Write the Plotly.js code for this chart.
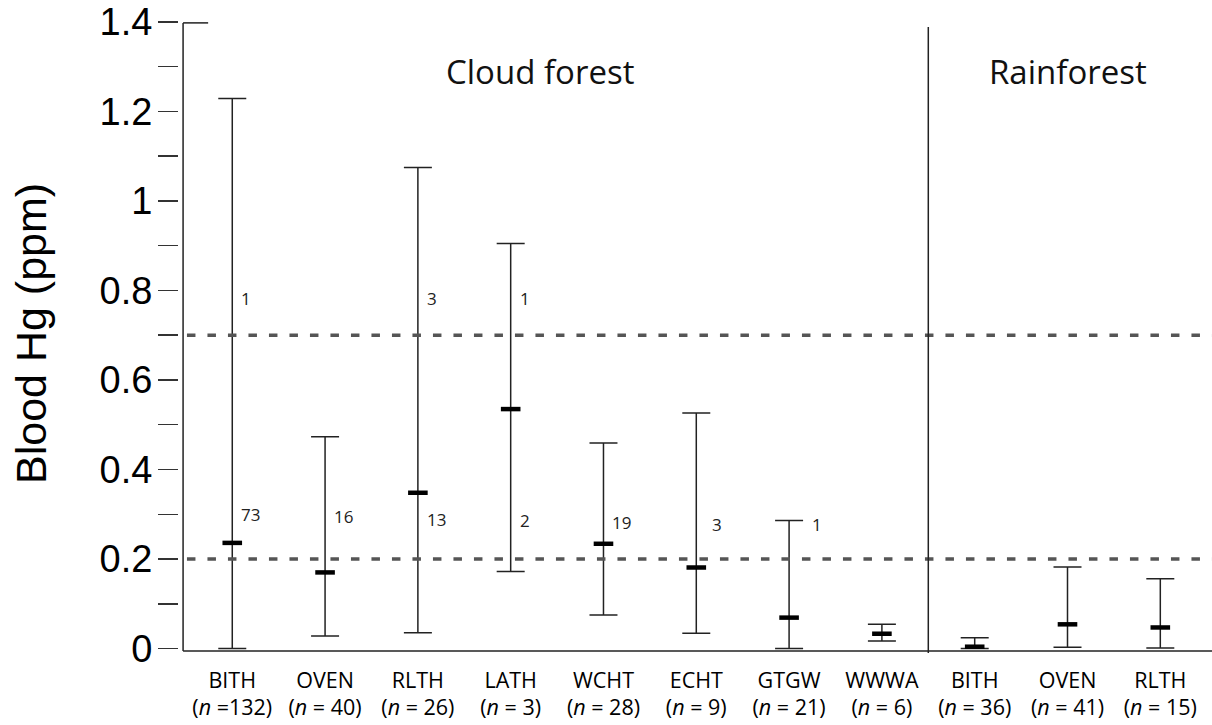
<!DOCTYPE html>
<html>
<head>
<meta charset="utf-8">
<script src="https://cdn.plot.ly/plotly-3.0.1.min.js"></script>
<style>
  html, body { margin: 0; padding: 0; background: #fff; }
  #chart { width: 1212px; height: 725px; }
</style>
</head>
<body>
<div id="chart"></div>
<script>
// ---- data ----
const species  = ["BITH", "OVEN", "RLTH", "LATH", "WCHT", "ECHT", "GTGW", "WWWA", "BITH", "OVEN", "RLTH"];
const sampleN  = ["=132", "= 40", "= 26", "= 3", "= 28", "= 9", "= 21", "= 6", "= 36", "= 41", "= 15"];
const meanHg   = [0.236, 0.170, 0.348, 0.535, 0.234, 0.181, 0.069, 0.033, 0.004, 0.054, 0.047];
const lowHg    = [0.000, 0.028, 0.035, 0.172, 0.075, 0.034, 0.000, 0.017, 0.000, 0.003, 0.001];
const highHg   = [1.229, 0.473, 1.075, 0.905, 0.459, 0.526, 0.286, 0.054, 0.024, 0.182, 0.156];
const thresholds = [0.2, 0.7];
const yTickVals  = [0, 0.1, 0.2, 0.3, 0.4, 0.5, 0.6, 0.7, 0.8, 0.9, 1.0, 1.1, 1.2, 1.3, 1.4];
const yTickText  = ["0", "", "0.2", "", "0.4", "", "0.6", "", "0.8", "", "1", "", "1.2", "", "1.4"];
const habitatNames = ["Cloud forest", "Rainforest"];
const habitatX     = [3.32, 9.0];
const habitatSplit = 7.5;
// counts above / below threshold annotated beside the bars
const countCat  = [0, 0, 1, 2, 2, 3, 3, 4, 5, 6];
const countText = ["1", "73", "16", "3", "13", "1", "2", "19", "3", "1"];
const countY    = [0.781, 0.299, 0.294, 0.781, 0.289, 0.783, 0.287, 0.282, 0.277, 0.277];

// ---- build traces ----
const xIdx = species.map((_, i) => i);
const tickText = species.map((s, i) => s + "<br>(<i>n</i> " + sampleN[i] + ")");

const trace = {
  type: "scatter",
  mode: "markers",
  x: xIdx,
  y: meanHg,
  marker: { symbol: "line-ew", size: 14, color: "#000", line: { color: "#000", width: 4.5 } },
  error_y: {
    type: "data",
    symmetric: false,
    array: highHg.map((h, i) => h - meanHg[i]),
    arrayminus: lowHg.map((l, i) => meanHg[i] - l),
    color: "#222",
    thickness: 1.5,
    width: 14
  },
  hoverinfo: "skip",
  showlegend: false
};

const shapes = [];
thresholds.forEach(t => shapes.push({
  type: "line", xref: "paper", yref: "y", x0: 0.0077, x1: 1, y0: t, y1: t,
  line: { color: "#555", width: 3.5, dash: "8.5px,12px" }
}));
// divider between habitats
shapes.push({ type: "line", xref: "x", yref: "paper", x0: habitatSplit, x1: habitatSplit, y0: -0.0032, y1: 0.9905,
  line: { color: "#222", width: 1.5 } });
// axis lines
shapes.push({ type: "line", xref: "x", yref: "paper", x0: -0.53, x1: -0.53, y0: 0, y1: 0.997,
  line: { color: "#222", width: 1.5 } });
shapes.push({ type: "line", xref: "x", yref: "paper", x0: -0.53, x1: -0.53 + 0.27, y0: 0.997, y1: 0.997,
  line: { color: "#222", width: 1.5 } });
shapes.push({ type: "line", xref: "x", yref: "paper", x0: -0.53, x1: 10.56, y0: 0, y1: 0,
  line: { color: "#222", width: 1.5 } });

const annotations = [];
habitatNames.forEach((h, i) => annotations.push({
  text: h, x: habitatX[i], y: 1.29, xref: "x", yref: "y", showarrow: false,
  font: { family: "Open Sans, sans-serif", size: 33, color: "#111" }
}));
countText.forEach((t, i) => {
  const c = countCat[i];
  const shift = c === 5 ? 15 : (c === 6 ? 22 : 8);
  annotations.push({
    text: t, x: c, y: countY[i], xref: "x", yref: "y", showarrow: false,
    xanchor: "left", xshift: shift - 1,
    font: { family: "Open Sans, sans-serif", size: 17, color: "#222" }
  });
});
// y-axis title
annotations.push({
  text: "Blood Hg (ppm)", xref: "paper", yref: "paper", x: (31 - 179) / 1033, y: (651 - 334) / 630,
  xanchor: "center", yanchor: "middle", textangle: -90, showarrow: false,
  font: { family: "Liberation Sans, Arial, sans-serif", size: 43, color: "#000" }
});

const layout = {
  width: 1212, height: 725,
  margin: { l: 179, r: 0, t: 21, b: 74 },
  paper_bgcolor: "#fff", plot_bgcolor: "#fff",
  showlegend: false,
  xaxis: {
    range: [-0.574, 10.557],
    tickmode: "array", tickvals: xIdx, ticktext: tickText,
    ticks: "", showgrid: false, zeroline: false, showline: false,
    tickfont: { family: "Open Sans, sans-serif", size: 21.5, color: "#000" },
    ticklabelstandoff: 14
  },
  yaxis: {
    range: [-0.00559, 1.4022],
    tickmode: "array", tickvals: yTickVals, ticktext: yTickText,
    ticks: "outside", ticklen: 20, tickwidth: 1.5, tickcolor: "#333",
    showgrid: false, zeroline: false, showline: false,
    tickfont: { family: "Liberation Sans, Arial, sans-serif", size: 38, color: "#000" },
    ticklabelstandoff: -2
  },
  shapes: shapes,
  annotations: annotations
};

Plotly.newPlot("chart", [trace], layout, { displayModeBar: false, staticPlot: true });
</script>
</body>
</html>
